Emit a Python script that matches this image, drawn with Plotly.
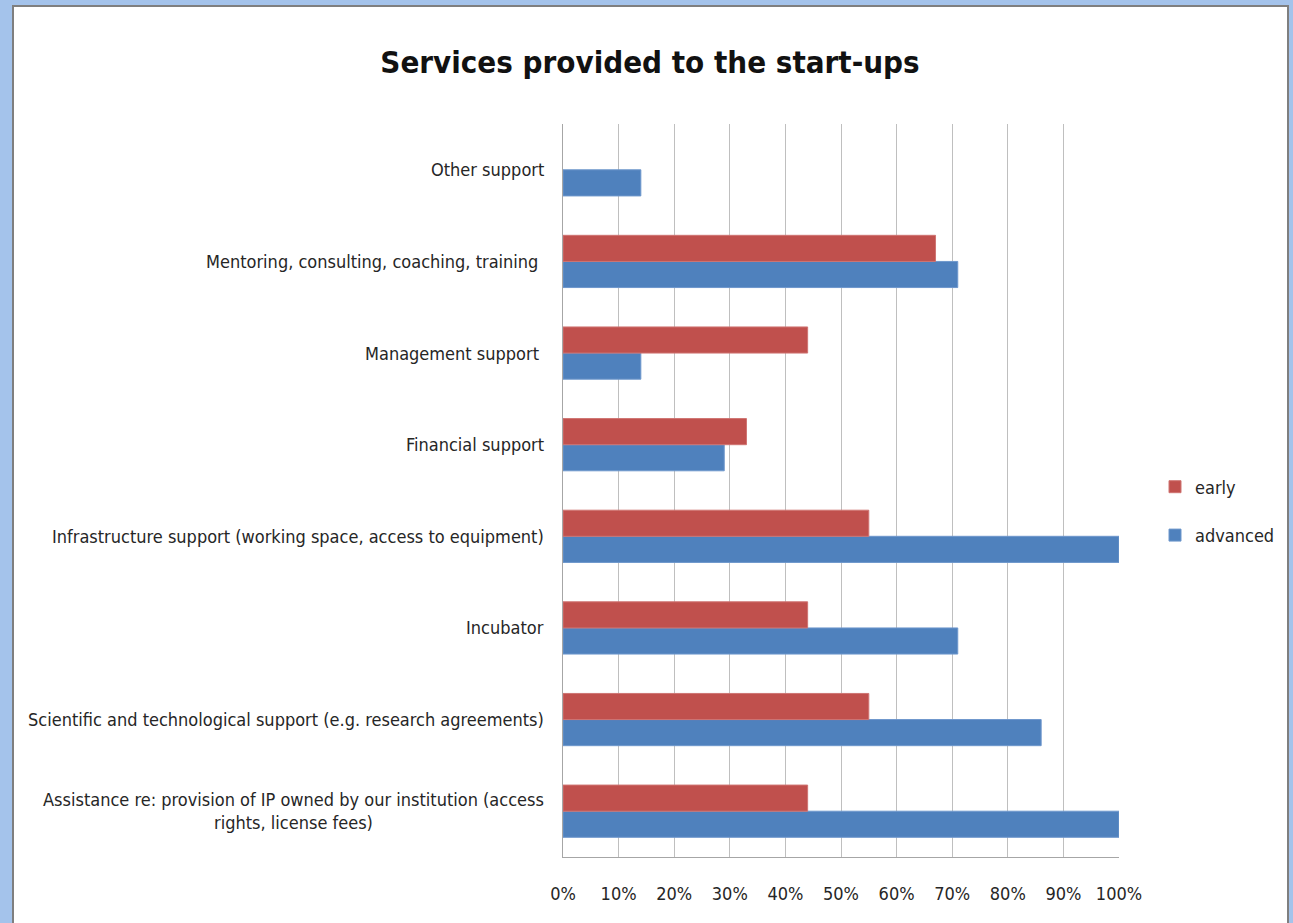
import plotly.graph_objects as go

# Services, listed bottom-to-top as they appear on the category axis
categories = [
    "Assistance re: provision of IP owned by our institution (access<br>rights, license fees)",
    "Scientific and technological support (e.g. research agreements)",
    "Incubator",
    "Infrastructure support (working space, access to equipment)",
    "Financial support",
    "Management support ",
    "Mentoring, consulting, coaching, training ",
    "Other support",
]
advanced = [100, 86, 71, 100, 29, 14, 71, 14]
early = [44, 55, 44, 55, 33, 44, 67, None]

x_ticks = list(range(0, 101, 10))
x_tick_labels = [f"{v}%" for v in x_ticks]

FONT = "DejaVu Sans Condensed, Liberation Sans Narrow, sans-serif"
TEXT = "#262626"

W, H = 1293, 923
L, R, T, B = 563, 174, 124, 66
pw, ph = W - L - R, H - T - B


def px_x(p):
    return (p - L) / pw


def px_y(p):
    return (H - B - p) / ph


fig = go.Figure()
fig.add_trace(go.Bar(
    y=categories, x=advanced, name="advanced", orientation="h",
    legendgroup="advanced", legendrank=2,
    marker=dict(color="#4F81BD", line=dict(color="#6E97CC", width=1)),
))
fig.add_trace(go.Bar(
    y=categories, x=early, name="early", orientation="h",
    legendgroup="early", legendrank=1,
    marker=dict(color="#C0504D", line=dict(color="#CF7472", width=1)),
))

# Category labels as centred multi-line text blocks, right-aligned to the axis
for c in categories:
    fig.add_annotation(
        x=0, xref="paper", y=c, yref="y", text=c, showarrow=False,
        xanchor="right", yanchor="middle", align="center", xshift=-17,
        font=dict(family=FONT, size=18, color=TEXT),
    )

# Window-style frame around the chart
fig.add_shape(type="rect", xref="paper", yref="paper", layer="below",
              x0=px_x(13), x1=px_x(1288), y0=px_y(940), y1=px_y(6),
              fillcolor="white", line=dict(color="#7F7F7F", width=2))

fig.update_layout(
    width=W, height=H,
    margin=dict(l=L, r=R, t=T, b=B, autoexpand=False),
    paper_bgcolor="#A4C3EB",
    plot_bgcolor="white",
    barmode="group", bargap=0.43, bargroupgap=0,
    title=dict(text="<b>Services provided to the start-ups</b>",
               x=650 / W, xref="container", xanchor="center",
               y=(H - 62) / H, yref="container", yanchor="middle",
               font=dict(family=FONT, size=31, color="#111111")),
    legend=dict(x=1155 / W, xref="container", y=1 - 511 / H, yref="container",
                xanchor="left", yanchor="middle",
                traceorder="grouped", bgcolor="rgba(0,0,0,0)",
                font=dict(family=FONT, size=18, color=TEXT),
                itemwidth=30, tracegroupgap=22),
    showlegend=True,
    xaxis=dict(range=[0, 100], tickvals=x_ticks, ticktext=x_tick_labels,
               showgrid=True, gridcolor="#BFBFBF", gridwidth=1,
               showline=True, linecolor="#A6A6A6", linewidth=1,
               zeroline=False, ticks="", ticklabelstandoff=20,
               tickfont=dict(family=FONT, size=18, color=TEXT),
               fixedrange=True),
    yaxis=dict(showticklabels=False, showgrid=False, zeroline=False,
               showline=True, linecolor="#A6A6A6", linewidth=1,
               ticks="", fixedrange=True),
)

fig.write_html("out.html")
